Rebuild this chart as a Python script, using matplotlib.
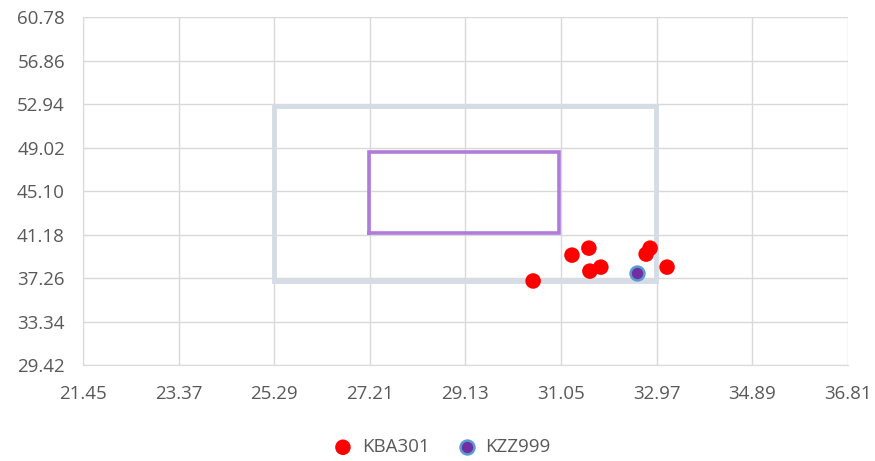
import matplotlib
matplotlib.use('Agg')
import matplotlib.pyplot as plt

# tick values
x_ticks = [21.45, 23.37, 25.29, 27.21, 29.13, 31.05, 32.97, 34.89, 36.81]
y_ticks = [29.42, 33.34, 37.26, 41.18, 45.10, 49.02, 52.94, 56.86, 60.78]

# series KBA301
kba_x = [30.49, 31.27, 31.61, 31.63, 31.85, 32.76, 32.84, 33.18]
kba_y = [37.00, 39.33, 39.96, 37.89, 38.25, 39.42, 39.96, 38.25]

# series KZZ999
kzz_x = [32.57]
kzz_y = [37.71]

# outer and inner boxes (corners, closed)
outer_x = [25.29, 32.95, 32.95, 25.29, 25.29]
outer_y = [37.00, 37.00, 52.78, 52.78, 37.00]
inner_x = [27.19, 31.00, 31.00, 27.19, 27.19]
inner_y = [41.28, 41.28, 48.66, 48.66, 41.28]

plt.rcParams['font.family'] = ['Open Sans', 'DejaVu Sans']
txt = '#595959'
grid_c = '#d9d9d9'

fig = plt.figure(figsize=(8.75, 4.61), dpi=100)
ax = fig.add_axes([0.0949, 0.208, 0.874, 0.755])

ax.plot(outer_x, outer_y, color='#d6dce5', lw=3.5, solid_joinstyle='miter', zorder=2)
ax.plot(inner_x, inner_y, color='#b07cdb', lw=2.6, solid_joinstyle='miter', zorder=2)

ax.scatter(kba_x, kba_y, s=125, color='#ff0000', edgecolors='none', zorder=3, label='KBA301')
ax.scatter(kzz_x, kzz_y, s=100, color='#7030a0', edgecolors='#5b9bd5', linewidths=1.8,
           zorder=4, label='KZZ999')

ax.set_xlim(x_ticks[0], x_ticks[-1])
ax.set_ylim(y_ticks[0], y_ticks[-1])
ax.set_xticks(x_ticks)
ax.set_yticks(y_ticks)
ax.set_xticklabels(['%.2f' % v for v in x_ticks])
ax.set_yticklabels(['%.2f' % v for v in y_ticks])
ax.tick_params(colors=txt, labelsize=13.5, length=0)
ax.tick_params(axis='x', pad=14)
ax.tick_params(axis='y', pad=13)
ax.grid(True, color=grid_c, lw=1)
ax.set_axisbelow(True)
for s in ['top', 'right']:
    ax.spines[s].set_visible(False)
for s in ['left', 'bottom']:
    ax.spines[s].set_color(grid_c)

leg = fig.legend(loc='center', bbox_to_anchor=(0.5, 0.03), ncol=2, frameon=False,
                 fontsize=13.5, handletextpad=0.0, columnspacing=1.0, markerscale=1.0)
for t in leg.get_texts():
    t.set_color(txt)

fig.savefig('out.png', dpi=100)
